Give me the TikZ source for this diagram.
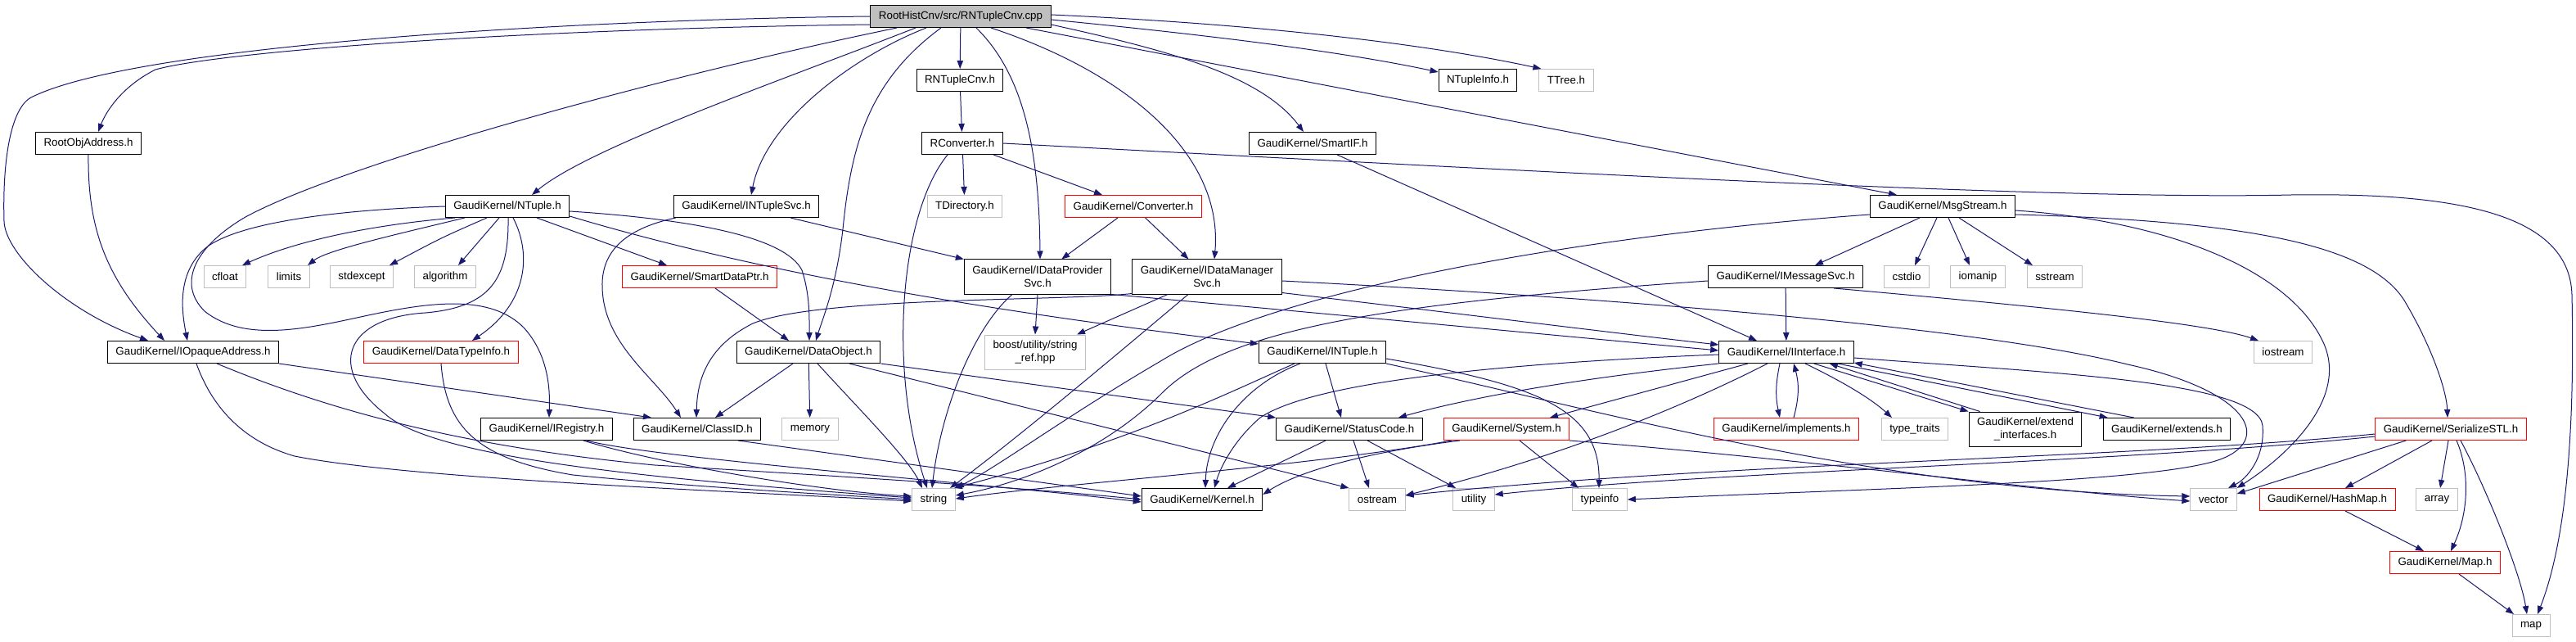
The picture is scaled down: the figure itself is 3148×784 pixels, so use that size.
\documentclass[tikz,border=0pt]{standalone}
\usepackage{fontspec}
\newfontfamily\dxfont{Liberation Sans}
\usetikzlibrary{calc,arrows.meta}
\definecolor{edgeblue}{HTML}{191970}
\definecolor{sysgray}{HTML}{BFBFBF}

\begin{document}
\begin{tikzpicture}[x=0.75pt,y=-0.75pt,
	hdr/.style={draw=black,fill=white,line width=0.75pt,font={\dxfont\fontsize{10}{12}\selectfont},inner xsep=7.5pt,inner ysep=2pt,minimum height=20.25pt,align=center},
	syshdr/.style={hdr,draw=sysgray},
	redhdr/.style={hdr,draw=red},
	roothdr/.style={hdr,fill=sysgray},
	twoline/.style={minimum height=31.5pt},
	dep/.style={color=edgeblue,line width=0.75pt,-{Triangle[length=7.5pt,width=5.5pt]}}]
			\path[fill=white] (0,0) rectangle (3148,784);
			
			\node[roothdr] (cpp) at (1174,20) {RootHistCnv/src/RNTupleCnv.cpp};
			\node[hdr] (RNTupleCnvH) at (1173,98) {RNTupleCnv.h};
			\node[hdr] (RConverter) at (1176,175) {RConverter.h};
			\node[hdr] (RootObjAddress) at (108,175) {RootObjAddress.h};
			\node[hdr] (SmartIF) at (1604,175) {GaudiKernel/SmartIF.h};
			\node[hdr] (NTupleInfo) at (1806,98) {NTupleInfo.h};
			\node[syshdr] (TTree) at (1914,98) {TTree.h};
			
			\node[hdr] (NTuple) at (620,252) {GaudiKernel/NTuple.h};
			\node[hdr] (INTupleSvc) at (912,252) {GaudiKernel/INTupleSvc.h};
			\node[syshdr] (TDirectory) at (1179,252) {TDirectory.h};
			\node[redhdr] (Converter) at (1385,252) {GaudiKernel/Converter.h};
			\node[hdr] (MsgStream) at (2374,252) {GaudiKernel/MsgStream.h};
			
			\node[syshdr] (cfloat) at (275,338) {cfloat};
			\node[syshdr] (limits) at (353,338) {limits};
			\node[syshdr] (stdexcept) at (442,338) {stdexcept};
			\node[syshdr] (algorithm) at (544,338) {algorithm};
			\node[redhdr] (SmartDataPtr) at (855,338) {GaudiKernel/SmartDataPtr.h};
			\node[hdr,twoline] (IDataProviderSvc) at (1268,338) {GaudiKernel/IDataProvider\\Svc.h};
			\node[hdr,twoline] (IDataManagerSvc) at (1475,338) {GaudiKernel/IDataManager\\Svc.h};
			\node[hdr] (IMessageSvc) at (2182,338) {GaudiKernel/IMessageSvc.h};
			\node[syshdr] (cstdio) at (2330,338) {cstdio};
			\node[syshdr] (iomanip) at (2417,338) {iomanip};
			\node[syshdr] (sstream) at (2511,338) {sstream};
			
			\node[hdr] (IOpaqueAddress) at (236,430) {GaudiKernel/IOpaqueAddress.h};
			\node[redhdr] (DataTypeInfo) at (539,430) {GaudiKernel/DataTypeInfo.h};
			\node[hdr] (DataObject) at (988,430) {GaudiKernel/DataObject.h};
			\node[syshdr,twoline] (boost) at (1265,430) {boost/utility/string\\\_ref.hpp};
			\node[hdr] (INTuple) at (1616,430) {GaudiKernel/INTuple.h};
			\node[hdr] (IInterface) at (2183,430) {GaudiKernel/IInterface.h};
			\node[syshdr] (iostream) at (2790,430) {iostream};
			
			\node[hdr] (IRegistry) at (668,524) {GaudiKernel/IRegistry.h};
			\node[hdr] (ClassID) at (852,524) {GaudiKernel/ClassID.h};
			\node[syshdr] (memory) at (990,524) {memory};
			\node[hdr] (StatusCode) at (1649,524) {GaudiKernel/StatusCode.h};
			\node[redhdr] (System) at (1841,524) {GaudiKernel/System.h};
			\node[redhdr] (implements) at (2183,524) {GaudiKernel/implements.h};
			\node[syshdr] (typetraits) at (2340,524) {type\_traits};
			\node[hdr,twoline] (extendinterfaces) at (2475,524) {GaudiKernel/extend\\\_interfaces.h};
			\node[hdr] (extends) at (2648,524) {GaudiKernel/extends.h};
			\node[redhdr] (SerializeSTL) at (2995,524) {GaudiKernel/SerializeSTL.h};
			
			\node[syshdr] (string) at (1141,610) {string};
			\node[hdr] (Kernel) at (1469,610) {GaudiKernel/Kernel.h};
			\node[syshdr] (ostream) at (1683,610) {ostream};
			\node[syshdr] (utility) at (1801,610) {utility};
			\node[syshdr] (typeinfo) at (1955,610) {typeinfo};
			\node[syshdr] (vector) at (2705,610) {vector};
			\node[redhdr] (HashMap) at (2844,610) {GaudiKernel/HashMap.h};
			\node[syshdr] (array) at (2978,610) {array};
			\node[redhdr] (Map) at (2988,687) {GaudiKernel/Map.h};
			\node[syshdr] (map) at (3093,764) {map};
			
			\draw[dep] (cpp.west) .. controls (700,24) and (170,55) .. (40,118) .. controls (12,130) and (3,200) .. (5,270) .. controls (6,310) and (80,380) .. ($(IOpaqueAddress.north)+(-55,0)$);
			\draw[dep] ($(cpp.west)+(0,10)$) .. controls (600,36) and (260,65) .. (190,85) .. controls (150,105) and (130,135) .. ($(RootObjAddress.north)+(12,0)$);
			\draw[dep] ($(cpp.south)+(-78,0)$) .. controls (800,95) and (420,200) .. (300,265) .. controls (240,300) and (215,345) .. (250,380) .. controls (300,420) and (380,400) .. (450,385) .. controls (530,368) and (600,360) .. (640,400) .. controls (672,435) and (672,480) .. ($(IRegistry.north)+(3,0)$);
			\draw[dep] ($(cpp.south)+(-55,0)$) .. controls (950,100) and (720,180) .. ($(NTuple.north)+(30,0)$);
			\draw[dep] ($(cpp.south)+(-42,0)$) .. controls (1040,70) and (935,150) .. ($(INTupleSvc.north)+(6,0)$);
			\draw[dep] ($(cpp.south)+(-24,0)$) .. controls (1060,100) and (1040,180) .. (1030,280) .. controls (1022,350) and (1005,390) .. ($(DataObject.north)+(9,0)$);
			\draw[dep] (cpp) -- (RNTupleCnvH);
			\draw[dep] ($(cpp.south)+(19,0)$) .. controls (1250,90) and (1270,180) .. ($(IDataProviderSvc.north)+(3,0)$);
			\draw[dep] ($(cpp.south)+(37,0)$) .. controls (1380,90) and (1495,190) .. ($(IDataManagerSvc.north)+(9,0)$);
			\draw[dep] ($(cpp.south)+(80,0)$) -- ($(MsgStream.north)+(-56,0)$);
			\draw[dep] ($(cpp.east)+(0,4)$) .. controls (1500,45) and (1650,65) .. ($(NTupleInfo.west)+(0,-10)$);
			\draw[dep] ($(cpp.east)+(0,-2)$) .. controls (1550,30) and (1750,55) .. ($(TTree.north west)+(3,0)$);
			\draw[dep] ($(cpp.east)+(0,10)$) .. controls (1420,60) and (1540,90) .. ($(SmartIF.north)+(-11,0)$);
			
			\draw[dep] (RootObjAddress.south) .. controls (107,280) and (130,340) .. ($(IOpaqueAddress.north)+(-35,0)$);
			\draw[dep] (RNTupleCnvH) -- (RConverter);
			\draw[dep] (RConverter) -- (TDirectory);
			\draw[dep] (RConverter) -- (Converter);
			\draw[dep] ($(RConverter.south)+(-18,0)$) .. controls (1100,260) and (1085,450) .. ($(string.north)+(-8,0)$);
			\draw[dep] (RConverter.east) .. controls (1800,205) and (2500,245) .. (2800,238) .. controls (3000,235) and (3140,260) .. (3143,360) .. controls (3146,500) and (3140,650) .. ($(map.north)+(8,0)$);
			\draw[dep] (Converter) -- (IDataProviderSvc);
			\draw[dep] (Converter) -- (IDataManagerSvc);
			\draw[dep] ($(INTupleSvc.south)+(54,0)$) -- (IDataProviderSvc.north west);
			\draw[dep] ($(INTupleSvc.south west)+(3,0)$) .. controls (760,280) and (735,310) .. (736,350) .. controls (737,420) and (800,460) .. ($(ClassID.north)+(-20,0)$);
			
			\draw[dep] (NTuple.west) .. controls (420,256) and (300,270) .. (255,300) .. controls (215,330) and (222,380) .. ($(IOpaqueAddress.north)+(-7,0)$);
			\draw[dep] ($(NTuple.south west)+(12,0)$) .. controls (450,275) and (360,295) .. ($(cfloat.north)+(21,0)$);
			\draw[dep] ($(NTuple.south west)+(24,0)$) .. controls (490,285) and (400,305) .. ($(limits.north)+(23,0)$);
			\draw[dep] ($(NTuple.south)+(-25,0)$) .. controls (540,290) .. ($(stdexcept.north)+(34,0)$);
			\draw[dep] ($(NTuple.south)+(-10,0)$) -- ($(algorithm.north)+(16,0)$);
			\draw[dep] ($(NTuple.south)+(36,0)$) -- ($(SmartDataPtr.north)+(-40,0)$);
			\draw[dep] ($(NTuple.south)+(7,0)$) .. controls (650,310) and (645,370) .. ($(DataTypeInfo.north)+(38,0)$);
			\draw[dep] ($(NTuple.south)+(1,0)$) .. controls (622,340) and (600,375) .. (520,382) .. controls (420,388) and (400,450) .. (470,505) .. controls (530,560) and (800,585) .. ($(string.west)+(0,-2)$);
			\draw[dep] ($(NTuple.east)+(0,12)$) .. controls (950,340) and (1250,385) .. ($(INTuple.west)+(0,-10)$);
			\draw[dep] ($(NTuple.east)+(0,6)$) .. controls (850,268) and (960,290) .. (980,330) .. controls (990,360) and (989,390) .. ($(DataObject.north)+(1,0)$);
			
			\draw[dep] ($(SmartIF.south)+(30,0)$) -- ($(IInterface.north)+(-36,0)$);
			\draw[dep] ($(SmartDataPtr.south)+(19,0)$) -- ($(DataObject.north)+(-24,0)$);
			
			\draw[dep] (IDataProviderSvc.south) -- (boost.north);
			\draw[dep] ($(IDataProviderSvc.south)+(-31,0)$) .. controls (1190,400) and (1150,500) .. ($(string.north)+(-2,0)$);
			\draw[dep] (IDataProviderSvc.south east) .. controls (1500,372) and (1800,400) .. ($(IInterface.west)+(0,-2)$);
			\draw[dep] ($(IDataManagerSvc.south)+(-48,0)$) -- ($(boost.north)+(51,0)$);
			\draw[dep] ($(IDataManagerSvc.south)+(-23,0)$) .. controls (1380,420) and (1250,530) .. ($(string.north)+(20,0)$);
			\draw[dep] ($(IDataManagerSvc.south west)+(0,-1)$) .. controls (1300,368) and (1000,362) .. (920,395) .. controls (860,425) and (852,470) .. ($(ClassID.north)+(-1,0)$);
			\draw[dep] ($(IDataManagerSvc.south east)+(0,-2)$) .. controls (1800,385) and (2000,410) .. ($(IInterface.west)+(0,-9)$);
			\draw[dep] ($(IDataManagerSvc.east)+(0,5)$) .. controls (1900,360) and (2400,395) .. (2600,445) .. controls (2760,480) and (2780,545) .. (2700,565) .. controls (2600,590) and (2300,596) .. (typeinfo.east);
			
			\draw[dep] ($(INTuple.south)+(4,0)$) -- ($(StatusCode.north)+(-10,0)$);
			\draw[dep] ($(INTuple.south)+(-27,0)$) .. controls (1520,470) and (1475,530) .. ($(Kernel.north)+(4,0)$);
			\draw[dep] ($(INTuple.south)+(-34,0)$) .. controls (1500,480) and (1380,540) .. ($(string.north)+(25,0)$);
			\draw[dep] ($(INTuple.east)+(0,8)$) .. controls (1880,470) and (1955,500) .. ($(typeinfo.north)+(-1,0)$);
			\draw[dep] (INTuple.south east) .. controls (1950,500) and (2300,600) .. ($(vector.west)+(0,-4)$);
			
			\draw[dep] ($(StatusCode.south)+(-29,0)$) -- ($(Kernel.north)+(31,0)$);
			\draw[dep] ($(StatusCode.south)+(5,0)$) -- ($(ostream.north)+(-10,0)$);
			\draw[dep] ($(StatusCode.south)+(22,0)$) -- ($(utility.north)+(-22,0)$);
			
			\draw[dep] ($(DataObject.south)+(-19,0)$) -- ($(ClassID.north)+(22,0)$);
			\draw[dep] (DataObject) -- (memory);
			\draw[dep] ($(DataObject.south)+(11,0)$) .. controls (1050,500) and (1110,560) .. ($(string.north)+(-14,0)$);
			\draw[dep] (DataObject.south east) -- (StatusCode.north west);
			\draw[dep] ($(DataObject.south)+(50,0)$) -- (ostream.north west);
			
			\draw[dep] ($(ClassID.south)+(50,0)$) -- ($(Kernel.west)+(0,-4)$);
			\draw[dep] (IOpaqueAddress.south east) -- ($(ClassID.north)+(-56,0)$);
			\draw[dep] ($(IOpaqueAddress.south)+(29,0)$) .. controls (400,500) and (560,545) .. (800,568) .. controls (1000,580) and (1250,595) .. (Kernel.west);
			\draw[dep] ($(IOpaqueAddress.south)+(4,0)$) .. controls (260,500) and (300,540) .. (360,557) .. controls (500,585) and (900,600) .. ($(string.west)+(0,2)$);
			\draw[dep] ($(IRegistry.south)+(49,0)$) .. controls (800,560) and (1200,590) .. ($(Kernel.west)+(0,3)$);
			\draw[dep] ($(IRegistry.south)+(45,0)$) .. controls (800,565) and (1000,600) .. ($(string.west)+(0,-4)$);
			\draw[dep] (DataTypeInfo.south) .. controls (545,520) and (580,560) .. (700,580) .. controls (850,595) and (1000,603) .. (string.west);
			
			\draw[dep] (IMessageSvc) -- (IInterface);
			\draw[dep] ($(IMessageSvc.south)+(59,0)$) .. controls (2500,375) and (2700,395) .. ($(iostream.north)+(-30,0)$);
			\draw[dep] ($(IMessageSvc.west)+(0,5)$) .. controls (1700,370) and (1500,400) .. (1420,480) .. controls (1350,550) and (1250,590) .. ($(string.east)+(0,-5)$);
			
			\draw[dep] ($(MsgStream.south)+(-28,0)$) -- ($(IMessageSvc.north)+(36,0)$);
			\draw[dep] ($(MsgStream.south)+(-7,0)$) -- ($(cstdio.north)+(10,0)$);
			\draw[dep] ($(MsgStream.south)+(7,0)$) -- ($(iomanip.north)+(-10,0)$);
			\draw[dep] ($(MsgStream.south)+(20,0)$) -- ($(sstream.north)+(-27,0)$);
			\draw[dep] ($(MsgStream.west)+(0,10)$) .. controls (1900,290) and (1550,360) .. (1420,440) .. controls (1300,510) and (1220,570) .. (string.north east);
			\draw[dep] ($(MsgStream.east)+(0,10)$) .. controls (2750,270) and (2900,300) .. (2940,370) .. controls (2975,430) and (2990,480) .. ($(SerializeSTL.north)+(-4,0)$);
			\draw[dep] ($(MsgStream.east)+(0,5)$) .. controls (2650,270) and (2800,330) .. (2840,420) .. controls (2870,490) and (2790,560) .. (vector.north east);
			
			\draw[dep] ($(IInterface.east)+(0,7)$) .. controls (2500,455) and (2760,465) .. (2765,520) .. controls (2768,560) and (2745,585) .. ($(vector.north)+(18,0)$);
			\draw[dep] ($(IInterface.west)+(0,3)$) .. controls (1800,445) and (1600,470) .. (1540,510) .. controls (1505,540) and (1490,575) .. ($(Kernel.north)+(15,0)$);
			\draw[dep] (IInterface.south west) .. controls (1900,465) and (1780,490) .. ($(StatusCode.north)+(60,0)$);
			\draw[dep] ($(IInterface.south)+(-47,0)$) -- ($(System.north)+(53,0)$);
			\draw[dep] ($(IInterface.south)+(-23,0)$) .. controls (2050,500) and (1900,560) .. ($(ostream.east)+(0,-5)$);
			\draw[dep] ($(IInterface.south)+(-8,0)$) to[bend right=12] ($(implements.north)+(-8,0)$);
			\draw[dep] ($(implements.north)+(9,0)$) to[bend right=15] ($(IInterface.south)+(9,0)$);
			\draw[dep] ($(IInterface.south)+(23,0)$) .. controls (2260,470) and (2290,490) .. ($(typetraits.north)+(-28,0)$);
			\draw[dep] ($(IInterface.south east)+(-49,0)$) -- (extendinterfaces.north west);
			\draw[dep] ($(extendinterfaces.north west)+(14,0)$) -- ($(IInterface.south east)+(-30,0)$);
			\draw[dep] ($(IInterface.south east)+(-20,0)$) -- ($(extends.north west)+(6,0)$);
			\draw[dep] ($(extends.north west)+(38,0)$) -- ($(IInterface.south east)+(0,-1)$);
			
			\draw[dep] ($(System.south)+(16,0)$) -- ($(typeinfo.north)+(-26,0)$);
			\draw[dep] ($(System.south west)+(20,0)$) .. controls (1650,555) and (1580,580) .. ($(Kernel.east)+(0,-6)$);
			\draw[dep] ($(System.south west)+(10,0)$) .. controls (1600,570) and (1300,590) .. ($(string.east)+(0,-1)$);
			\draw[dep] (System.south east) .. controls (2200,560) and (2500,600) .. ($(vector.west)+(0,2)$);
			
			\draw[dep] ($(SerializeSTL.south west)+(38,0)$) -- ($(vector.east)+(0,-7)$);
			\draw[dep] ($(SerializeSTL.south)+(-23,0)$) -- ($(HashMap.north)+(22,0)$);
			\draw[dep] ($(SerializeSTL.south)+(-3,0)$) -- ($(array.north)+(4,0)$);
			\draw[dep] ($(SerializeSTL.south)+(7,0)$) .. controls (3020,580) and (3015,630) .. ($(Map.north)+(7,0)$);
			\draw[dep] ($(SerializeSTL.south)+(12,0)$) .. controls (3040,600) and (3080,700) .. ($(map.north)+(-5,0)$);
			\draw[dep] ($(SerializeSTL.west)+(0,6)$) .. controls (2600,560) and (2100,565) .. ($(ostream.east)+(0,-5)$);
			\draw[dep] ($(SerializeSTL.west)+(0,9)$) .. controls (2600,565) and (2100,575) .. ($(utility.east)+(0,-6)$);
			\draw[dep] ($(HashMap.south)+(22,0)$) -- ($(Map.north)+(-26,0)$);
			\draw[dep] ($(Map.south)+(17,0)$) -- ($(map.north)+(-21,0)$);
			\end{tikzpicture}
\end{document}
